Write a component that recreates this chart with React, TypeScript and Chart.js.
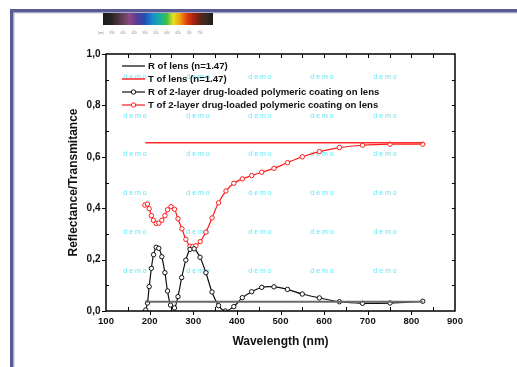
import React, { useEffect, useRef } from "react";
import { Chart, registerables } from "chart.js";

Chart.register(...registerables);

// ---- Data ----
const wlLens = [190, 826];
const rLens = [0.036, 0.036];
const tLens = [0.655, 0.655];

const wlCoatR = [191, 195, 199, 204, 209, 215, 221, 228, 235, 241, 248, 257, 265, 273.5, 283, 292.5, 302, 315.5, 329, 343, 358, 373.5, 393, 412.5, 434, 457, 485, 516, 550, 589, 635, 688, 751, 826];
const rCoat = [0.004, 0.031, 0.095, 0.166, 0.219, 0.248, 0.244, 0.211, 0.149, 0.078, 0.023, 0.012, 0.056, 0.13, 0.198, 0.24, 0.242, 0.209, 0.149, 0.074, 0.021, 0.0, 0.017, 0.052, 0.075, 0.092, 0.094, 0.084, 0.066, 0.051, 0.036, 0.03, 0.031, 0.038];

const wlCoatT = [189, 195, 199, 204, 208.5, 215, 221, 228, 235, 241, 249, 257, 265, 274, 283, 292.5, 299, 306, 316, 329, 343, 358, 375, 393, 412.5, 434, 457, 485, 516, 550, 589, 635, 688, 751, 826];
const tCoat = [0.412, 0.416, 0.398, 0.371, 0.353, 0.341, 0.342, 0.353, 0.371, 0.394, 0.406, 0.396, 0.359, 0.32, 0.279, 0.252, 0.25, 0.254, 0.27, 0.307, 0.362, 0.421, 0.467, 0.497, 0.514, 0.527, 0.54, 0.555, 0.577, 0.6, 0.62, 0.636, 0.645, 0.649, 0.649];

const seriesLabels = [
  "R of lens (n=1.47)",
  "T of lens (n=1.47)",
  "R of 2-layer drug-loaded polymeric coating on lens",
  "T of 2-layer drug-loaded polymeric coating on lens",
];
const xTitle = "Wavelength (nm)";
const yTitle = "Reflectance/Transmitance";
const xMin = 100, xMax = 900, xStep = 100, xMinor = 50;
const yMin = 0, yMax = 1, yStep = 0.2, yMinor = 0.1;
const spectrumLabels = ["(nm)", "350", "400", "450", "500", "550", "600", "650", "700", "750"];
const watermark = "d e m o";

const FONT = "'Liberation Sans', Arial, sans-serif";

const pts = (xs: number[], ys: number[]) => xs.map((x, i) => ({ x, y: ys[i] }));

const decorPlugin = {
  id: "decor",
  beforeDraw(chart: any) {
    const ctx = chart.ctx;
    ctx.save();
    // page frame
    ctx.fillStyle = "#5a5a94";
    ctx.fillRect(10, 9, 507, 3.5);
    ctx.fillRect(10, 9, 3.5, 358);
    ctx.fillStyle = "#a4a4c8";
    ctx.fillRect(13.5, 12.5, 503.5, 0.8);
    ctx.fillRect(13.5, 12.5, 0.8, 354.5);
    // spectrum bar
    const g = ctx.createLinearGradient(103, 0, 213, 0);
    const stops: [number, string][] = [
      [0, "#1c1a1a"], [0.08, "#2a2424"], [0.16, "#5a3a4a"], [0.24, "#8a4a80"], [0.31, "#5a3a98"],
      [0.38, "#1f4fb0"], [0.45, "#1a8ad0"], [0.52, "#18b0a0"], [0.58, "#40c040"], [0.64, "#e8e020"],
      [0.7, "#f0a010"], [0.76, "#e04010"], [0.82, "#b02010"], [0.88, "#602418"], [0.94, "#3a2a22"], [1, "#1c1a1a"],
    ];
    stops.forEach(([o, c]) => g.addColorStop(o, c));
    ctx.fillStyle = g;
    ctx.fillRect(103, 13, 110, 12);
    ctx.fillStyle = "#888";
    ctx.font = `3px ${FONT}`;
    ctx.textAlign = "center";
    ctx.textBaseline = "middle";
    spectrumLabels.forEach((s, i) => {
      const x = 101 + i * 11;
      ctx.fillText(s, x, 33);
      if (i > 0) ctx.fillRect(x - 0.2, 29.5, 0.5, 1.2);
    });
    ctx.fillText("'", 212, 33);
    ctx.restore();
  },
  beforeDatasetsDraw(chart: any) {
    const ctx = chart.ctx;
    ctx.save();
    ctx.fillStyle = "rgb(90,232,245)";
    ctx.font = `7px ${FONT}`;
    ctx.textAlign = "center";
    ctx.textBaseline = "middle";
    const cols = [135, 198, 260, 322, 385];
    const rows = [77, 116, 154, 193, 232, 271];
    rows.forEach((y) => cols.forEach((x) => ctx.fillText(watermark, x, y)));
    ctx.restore();
  },
  afterDraw(chart: any) {
    const ctx = chart.ctx;
    const xs = chart.scales.x, ys = chart.scales.y;
    const { left, right, top, bottom } = chart.chartArea;
    ctx.save();
    ctx.strokeStyle = "#000";
    ctx.lineWidth = 1;
    ctx.beginPath();
    for (let v = xMin; v <= xMax + 1e-6; v += xMinor) {
      const px = Math.round(xs.getPixelForValue(v)) + 0.5;
      const major = Math.abs(v / xStep - Math.round(v / xStep)) < 1e-6;
      if (v !== xMin && v !== xMax) {
        if (major) { ctx.moveTo(px, bottom); ctx.lineTo(px, bottom + 4); }
        else { ctx.moveTo(px, bottom); ctx.lineTo(px, bottom - 4); }
        ctx.moveTo(px, top); ctx.lineTo(px, top + 4);
      }
    }
    for (let v = yMin; v <= yMax + 1e-6; v += yMinor) {
      const py = Math.round(ys.getPixelForValue(v)) + 0.5;
      const major = Math.abs(v / yStep - Math.round(v / yStep)) < 1e-6;
      if (major) { ctx.moveTo(left, py); ctx.lineTo(left - 4, py); }
      else { ctx.moveTo(left, py); ctx.lineTo(left + 3, py); }
      if (v > yMin + 1e-6 && v < yMax - 1e-6) { ctx.moveTo(right, py); ctx.lineTo(right - 3, py); }
    }
    ctx.stroke();
    ctx.lineWidth = 1.5;
    ctx.strokeRect(left, top, right - left, bottom - top);

    // legend
    const ds = chart.data.datasets;
    const ys0 = [66, 79, 92, 105];
    ctx.font = `bold 9.6px ${FONT}`;
    ctx.textAlign = "left";
    ctx.textBaseline = "middle";
    ds.forEach((d: any, i: number) => {
      const y = ys0[i];
      ctx.strokeStyle = d.borderColor;
      ctx.lineWidth = d.borderWidth;
      ctx.beginPath();
      ctx.moveTo(122, y); ctx.lineTo(145, y);
      ctx.stroke();
      if (d.pointRadius > 0) {
        ctx.fillStyle = "#fff";
        ctx.lineWidth = 1;
        ctx.beginPath();
        ctx.arc(133.5, y, 2.2, 0, Math.PI * 2);
        ctx.fill();
        ctx.stroke();
      }
      ctx.fillStyle = "#111";
      ctx.fillText(d.label, 148, y + 0.5);
    });
    ctx.restore();
  },
};

export default function App() {
  const ref = useRef<HTMLCanvasElement>(null);
  useEffect(() => {
    document.body.style.margin = "0";
    const canvas = ref.current!;
    const chart = new Chart(canvas, {
      type: "line",
      data: {
        datasets: [
          {
            label: seriesLabels[0],
            data: pts(wlLens, rLens),
            borderColor: "#6a6a6a",
            borderWidth: 2,
            pointRadius: 0,
            tension: 0,
          },
          {
            label: seriesLabels[1],
            data: pts(wlLens, tLens),
            borderColor: "#ff2a2a",
            borderWidth: 1.5,
            pointRadius: 0,
            tension: 0,
          },
          {
            label: seriesLabels[2],
            data: pts(wlCoatR, rCoat),
            borderColor: "#111111",
            borderWidth: 1.2,
            pointRadius: 2.2,
            pointBorderWidth: 1,
            pointBackgroundColor: "#ffffff",
            pointBorderColor: "#111111",
            tension: 0.3,
          },
          {
            label: seriesLabels[3],
            data: pts(wlCoatT, tCoat),
            borderColor: "#ff1a1a",
            borderWidth: 1.2,
            pointRadius: 2.2,
            pointBorderWidth: 1,
            pointBackgroundColor: "#ffffff",
            pointBorderColor: "#ff1a1a",
            tension: 0.3,
          },
        ],
      },
      options: {
        responsive: false,
        animation: false,
        layout: { padding: { top: 54, right: 62, left: 0, bottom: 0 } },
        plugins: { legend: { display: false }, tooltip: { enabled: false }, title: { display: false } },
        scales: {
          x: {
            type: "linear",
            min: xMin,
            max: xMax,
            grid: { display: false, drawTicks: false },
            border: { display: false },
            afterFit: (s: any) => { s.height = 56; },
            ticks: {
              stepSize: xStep,
              padding: 5,
              color: "#111",
              font: { family: FONT, size: 9.5, weight: "bold" },
              maxRotation: 0,
            },
            title: {
              display: true,
              text: xTitle,
              color: "#111",
              font: { family: FONT, size: 12, weight: "bold" },
              padding: { top: 0, bottom: 18 },
            },
          },
          y: {
            type: "linear",
            min: yMin,
            max: yMax,
            grid: { display: false, drawTicks: false },
            border: { display: false },
            afterFit: (s: any) => { s.width = 106; },
            ticks: {
              stepSize: yStep,
              padding: 5.5,
              color: "#111",
              font: { family: FONT, size: 10, weight: "bold" },
              callback: (v: any) => Number(v).toFixed(1).replace(".", ","),
            },
            title: {
              display: true,
              text: yTitle,
              color: "#111",
              font: { family: FONT, size: 12, weight: "bold" },
              padding: { top: 66, bottom: 0 },
            },
          },
        },
      },
      plugins: [decorPlugin],
    } as any);
    return () => chart.destroy();
  }, []);
  return (
    <div style={{ width: 517, height: 367 }}>
      <canvas ref={ref} width={517} height={367} style={{ display: "block" }} />
    </div>
  );
}
